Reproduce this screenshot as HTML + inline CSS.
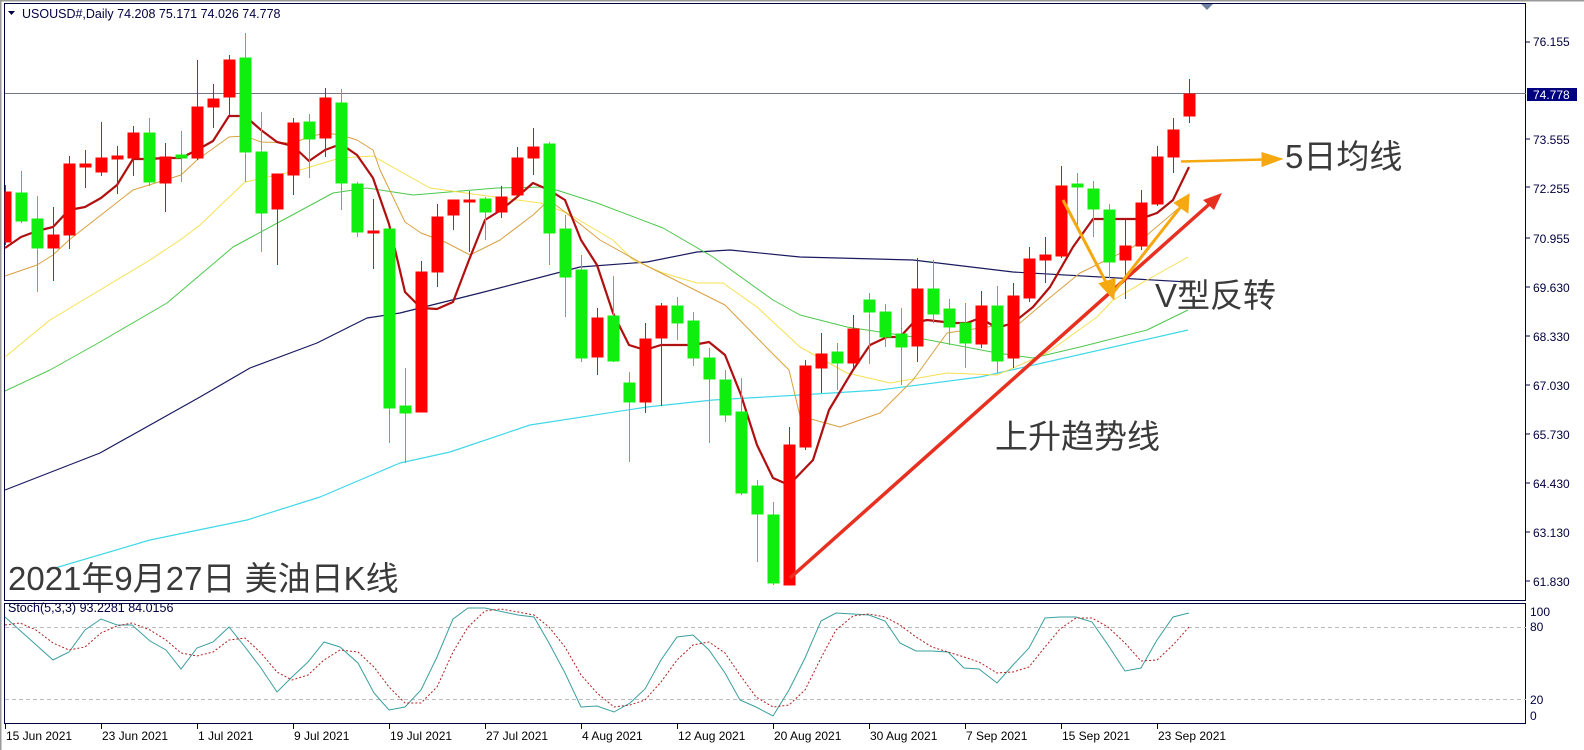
<!DOCTYPE html>
<html><head><meta charset="utf-8"><style>
html,body{margin:0;padding:0;background:#fff;}
svg{display:block;}
.ax{font-family:"Liberation Sans",sans-serif;font-size:12px;fill:#000040;}
.dt{font-family:"Liberation Sans",sans-serif;font-size:12px;fill:#000;}
.an{font-family:"Liberation Sans","Noto Sans CJK SC",sans-serif;fill:#3a3a3a;}
</style></head><body>
<svg width="1584" height="750" viewBox="0 0 1584 750" xmlns="http://www.w3.org/2000/svg">
<rect x="0" y="0" width="1584" height="750" fill="#fff"/>
<line x1="0" y1="0.5" x2="1584" y2="0.5" stroke="#999" stroke-width="2"/>
<line x1="0.5" y1="0" x2="0.5" y2="750" stroke="#999" stroke-width="2"/>
<rect x="4.5" y="3.5" width="1521" height="597" fill="none" stroke="#000040" stroke-width="1"/>
<rect x="4.5" y="603.5" width="1521" height="120" fill="none" stroke="#000040" stroke-width="1"/>
<polygon points="1201,4 1213,4 1207,10" fill="#7080a0"/>
<g stroke="#000040"><line x1="1526" y1="42" x2="1530" y2="42"/><line x1="1526" y1="139" x2="1530" y2="139"/><line x1="1526" y1="187" x2="1530" y2="187"/><line x1="1526" y1="238" x2="1530" y2="238"/><line x1="1526" y1="287" x2="1530" y2="287"/><line x1="1526" y1="336" x2="1530" y2="336"/><line x1="1526" y1="385" x2="1530" y2="385"/><line x1="1526" y1="434" x2="1530" y2="434"/><line x1="1526" y1="483" x2="1530" y2="483"/><line x1="1526" y1="532" x2="1530" y2="532"/><line x1="1526" y1="581" x2="1530" y2="581"/></g>
<g class="ax">
<text x="1533" y="46">76.155</text>
<text x="1533" y="144">73.555</text>
<text x="1533" y="193">72.255</text>
<text x="1533" y="243">70.955</text>
<text x="1533" y="292">69.630</text>
<text x="1533" y="341">68.330</text>
<text x="1533" y="390">67.030</text>
<text x="1533" y="439">65.730</text>
<text x="1533" y="488">64.430</text>
<text x="1533" y="537">63.130</text>
<text x="1533" y="586">61.830</text>
<text x="1530" y="616">100</text>
<text x="1530" y="631">80</text>
<text x="1530" y="704">20</text>
<text x="1530" y="720">0</text>
</g>
<rect x="1527" y="88" width="50" height="13" fill="#000080"/>
<text x="1533" y="99" class="ax" style="fill:#fff">74.778</text>
<line x1="5" y1="93.5" x2="1526" y2="93.5" stroke="#707888" stroke-width="1"/>
<polygon points="8,11 15,11 11.5,15" fill="#000040"/>
<text x="22" y="18" style="font-family:'Liberation Sans',sans-serif;font-size:12.5px;fill:#000040">USOUSD#,Daily  74.208 75.171 74.026 74.778</text>

<g fill="none" stroke-linejoin="round">
<polyline stroke="#40d8e8" stroke-width="1.2" points="55,568 150,540 247,520 320,497 400,463 450,452 530,425 647,407 713,400 800,395 880,390 980,377 1047,362 1188,330"/>
<polyline stroke="#1a1a60" stroke-width="1.2" points="5,490 100,453 200,397 250,368 317,343 367,318 400,313 480,293 580,267 647,262 697,252 730,250 800,257 913,260 1013,272 1188,282"/>
<polyline stroke="#4cc84c" stroke-width="1" points="5,391 50,370 100,342 167,303 233,247 283,220 333,193 367,188 413,195 497,188 547,187 597,203 663,228 713,257 773,300 800,315 847,327 913,337 997,353 1033,358 1080,347 1147,330 1188,310"/>
<polyline stroke="#f5e050" stroke-width="1" points="5,357 50,320 100,290 150,260 183,238 200,225 245,182 300,170 340,158 373,156 380,160 430,188 480,195 540,203 567,213 613,240 633,260 663,273 697,283 723,283 757,307 800,347 847,373 890,383 947,373 997,375 1047,353 1097,317 1113,300 1147,280 1188,257"/>
<polyline stroke="#d8a040" stroke-width="1" points="5,276 37,265 53,255 69,240 101,215 133,190 165,180 181,175 197,160 229,137 245,136 261,142 293,143 309,137 325,133 341,135 357,140 373,150 380,170 405,222 421,233 445,242 470,255 500,240 533,215 549,200 565,212 600,240 645,265 685,285 725,305 769,350 789,370 800,416 840,427 880,413 913,380 947,333 987,327 1020,323 1047,300 1080,273 1133,247 1180,207 1189,195"/>
<polyline stroke="#b01010" stroke-width="2.2" points="5,248 21,237 37,231 53,227 69,210 85,207 101,198 117,185 133,159 149,159 165,158 181,158 197,150 213,141 229,116 245,116 261,130 277,142 293,146 309,161 325,150 341,144 357,155 373,178 389,224 405,292 421,308 437,309 453,302 469,260 485,220 501,210 517,197 533,183 549,190 565,200 581,240 597,265 613,313 629,345 645,350 661,345 677,345 693,345 709,342 725,355 741,395 757,445 773,478 789,485 813,460 829,410 853,370 870,345 887,337 900,337 913,323 927,320 953,323 967,323 980,318 997,328 1013,323 1033,307 1050,287 1073,247 1093,219 1140,219 1157,213 1173,200 1189,167"/>
</g>

<g stroke-width="1">
<g stroke="#ff0000" fill="#ff0000">
<line x1="5.5" y1="185" x2="5.5" y2="245"/><rect x="5" y="192" width="6" height="50"/>
<line x1="53.5" y1="207" x2="53.5" y2="281"/><rect x="48" y="235" width="11" height="13"/>
<line x1="69.5" y1="156" x2="69.5" y2="249"/><rect x="64" y="164" width="11" height="71"/>
<line x1="85.5" y1="150" x2="85.5" y2="188"/><rect x="80" y="164" width="11" height="3"/>
<line x1="101.5" y1="122" x2="101.5" y2="176"/><rect x="96" y="158" width="11" height="14"/>
<line x1="117.5" y1="146" x2="117.5" y2="194"/><rect x="112" y="156" width="11" height="3"/>
<line x1="133.5" y1="126" x2="133.5" y2="176"/><rect x="128" y="133" width="11" height="25"/>
<line x1="165.5" y1="143" x2="165.5" y2="212"/><rect x="160" y="157" width="11" height="26"/>
<line x1="197.5" y1="60" x2="197.5" y2="160"/><rect x="192" y="107" width="11" height="51"/>
<line x1="213.5" y1="84" x2="213.5" y2="128"/><rect x="208" y="99" width="11" height="8"/>
<line x1="229.5" y1="55" x2="229.5" y2="115"/><rect x="224" y="60" width="11" height="37"/>
<line x1="277.5" y1="174" x2="277.5" y2="265"/><rect x="272" y="174" width="11" height="35"/>
<line x1="293.5" y1="118" x2="293.5" y2="195"/><rect x="288" y="123" width="11" height="52"/>
<line x1="325.5" y1="88" x2="325.5" y2="157"/><rect x="320" y="98" width="11" height="40"/>
<line x1="373.5" y1="199" x2="373.5" y2="269"/><rect x="368" y="231" width="11" height="2"/>
<line x1="421.5" y1="261" x2="421.5" y2="412"/><rect x="416" y="272" width="11" height="140"/>
<line x1="437.5" y1="204" x2="437.5" y2="287"/><rect x="432" y="217" width="11" height="55"/>
<line x1="453.5" y1="200" x2="453.5" y2="230"/><rect x="448" y="200" width="11" height="15"/>
<line x1="469.5" y1="191" x2="469.5" y2="252"/><rect x="464" y="200" width="11" height="2"/>
<line x1="501.5" y1="186" x2="501.5" y2="218"/><rect x="496" y="197" width="11" height="15"/>
<line x1="517.5" y1="147" x2="517.5" y2="198"/><rect x="512" y="158" width="11" height="37"/>
<line x1="533.5" y1="128" x2="533.5" y2="175"/><rect x="528" y="147" width="11" height="11"/>
<line x1="597.5" y1="308" x2="597.5" y2="375"/><rect x="592" y="318" width="11" height="39"/>
<line x1="645.5" y1="323" x2="645.5" y2="413"/><rect x="640" y="339" width="11" height="63"/>
<line x1="661.5" y1="303" x2="661.5" y2="406"/><rect x="656" y="306" width="11" height="32"/>
<line x1="789.5" y1="427" x2="789.5" y2="585"/><rect x="784" y="445" width="11" height="140"/>
<line x1="805.5" y1="360" x2="805.5" y2="450"/><rect x="800" y="366" width="11" height="81"/>
<line x1="821.5" y1="333" x2="821.5" y2="393"/><rect x="816" y="354" width="11" height="14"/>
<line x1="853.5" y1="315" x2="853.5" y2="368"/><rect x="848" y="329" width="11" height="34"/>
<line x1="917.5" y1="258" x2="917.5" y2="362"/><rect x="912" y="289" width="11" height="57"/>
<line x1="981.5" y1="291" x2="981.5" y2="348"/><rect x="976" y="306" width="11" height="38"/>
<line x1="1013.5" y1="283" x2="1013.5" y2="368"/><rect x="1008" y="296" width="11" height="62"/>
<line x1="1029.5" y1="247" x2="1029.5" y2="302"/><rect x="1024" y="259" width="11" height="39"/>
<line x1="1045.5" y1="237" x2="1045.5" y2="283"/><rect x="1040" y="255" width="11" height="5"/>
<line x1="1061.5" y1="166" x2="1061.5" y2="258"/><rect x="1056" y="186" width="11" height="70"/>
<line x1="1125.5" y1="220" x2="1125.5" y2="299"/><rect x="1120" y="246" width="11" height="14"/>
<line x1="1141.5" y1="190" x2="1141.5" y2="250"/><rect x="1136" y="203" width="11" height="43"/>
<line x1="1157.5" y1="146" x2="1157.5" y2="206"/><rect x="1152" y="157" width="11" height="47"/>
<line x1="1173.5" y1="118" x2="1173.5" y2="173"/><rect x="1168" y="130" width="11" height="27"/>
<line x1="1189.5" y1="79" x2="1189.5" y2="123"/><rect x="1184" y="94" width="11" height="22"/>
</g>
<g stroke="#10ee10" fill="#10ee10">
<line x1="21.5" y1="171" x2="21.5" y2="223"/><rect x="16" y="193" width="11" height="28"/>
<line x1="37.5" y1="196" x2="37.5" y2="292"/><rect x="32" y="219" width="11" height="29"/>
<line x1="149.5" y1="118" x2="149.5" y2="186"/><rect x="144" y="133" width="11" height="49"/>
<line x1="181.5" y1="131" x2="181.5" y2="182"/><rect x="176" y="155" width="11" height="3"/>
<line x1="245.5" y1="33" x2="245.5" y2="182"/><rect x="240" y="58" width="11" height="94"/>
<line x1="261.5" y1="112" x2="261.5" y2="252"/><rect x="256" y="152" width="11" height="61"/>
<line x1="309.5" y1="114" x2="309.5" y2="178"/><rect x="304" y="122" width="11" height="17"/>
<line x1="341.5" y1="89" x2="341.5" y2="210"/><rect x="336" y="103" width="11" height="80"/>
<line x1="357.5" y1="182" x2="357.5" y2="237"/><rect x="352" y="184" width="11" height="48"/>
<line x1="389.5" y1="229" x2="389.5" y2="443"/><rect x="384" y="229" width="11" height="179"/>
<line x1="405.5" y1="368" x2="405.5" y2="463"/><rect x="400" y="406" width="11" height="7"/>
<line x1="485.5" y1="197" x2="485.5" y2="240"/><rect x="480" y="199" width="11" height="13"/>
<line x1="549.5" y1="142" x2="549.5" y2="265"/><rect x="544" y="144" width="11" height="89"/>
<line x1="565.5" y1="215" x2="565.5" y2="317"/><rect x="560" y="229" width="11" height="48"/>
<line x1="581.5" y1="255" x2="581.5" y2="362"/><rect x="576" y="270" width="11" height="88"/>
<line x1="613.5" y1="276" x2="613.5" y2="362"/><rect x="608" y="316" width="11" height="45"/>
<line x1="629.5" y1="372" x2="629.5" y2="462"/><rect x="624" y="383" width="11" height="19"/>
<line x1="677.5" y1="297" x2="677.5" y2="340"/><rect x="672" y="306" width="11" height="17"/>
<line x1="693.5" y1="312" x2="693.5" y2="366"/><rect x="688" y="321" width="11" height="37"/>
<line x1="709.5" y1="348" x2="709.5" y2="443"/><rect x="704" y="358" width="11" height="21"/>
<line x1="725.5" y1="370" x2="725.5" y2="422"/><rect x="720" y="380" width="11" height="35"/>
<line x1="741.5" y1="378" x2="741.5" y2="495"/><rect x="736" y="412" width="11" height="81"/>
<line x1="757.5" y1="480" x2="757.5" y2="562"/><rect x="752" y="486" width="11" height="28"/>
<line x1="773.5" y1="502" x2="773.5" y2="585"/><rect x="768" y="515" width="11" height="68"/>
<line x1="837.5" y1="343" x2="837.5" y2="390"/><rect x="832" y="352" width="11" height="11"/>
<line x1="869.5" y1="293" x2="869.5" y2="364"/><rect x="864" y="300" width="11" height="12"/>
<line x1="885.5" y1="304" x2="885.5" y2="347"/><rect x="880" y="312" width="11" height="25"/>
<line x1="901.5" y1="308" x2="901.5" y2="385"/><rect x="896" y="334" width="11" height="13"/>
<line x1="933.5" y1="260" x2="933.5" y2="323"/><rect x="928" y="289" width="11" height="25"/>
<line x1="949.5" y1="299" x2="949.5" y2="345"/><rect x="944" y="309" width="11" height="18"/>
<line x1="965.5" y1="303" x2="965.5" y2="368"/><rect x="960" y="323" width="11" height="20"/>
<line x1="997.5" y1="286" x2="997.5" y2="373"/><rect x="992" y="306" width="11" height="55"/>
<line x1="1077.5" y1="173" x2="1077.5" y2="230"/><rect x="1072" y="184" width="11" height="3"/>
<line x1="1093.5" y1="181" x2="1093.5" y2="237"/><rect x="1088" y="189" width="11" height="20"/>
<line x1="1109.5" y1="204" x2="1109.5" y2="278"/><rect x="1104" y="210" width="11" height="52"/>
</g>
</g>

<line x1="790" y1="578" x2="1214" y2="200" stroke="#e83020" stroke-width="3.5"/>
<polygon points="1222,193 1203,200 1214,210" fill="#e83020"/>
<g stroke="#f5a810" stroke-width="3" fill="#f5a810">
<line x1="1063" y1="200" x2="1108" y2="286"/>
<polygon points="1113,297 1101,284 1114,280"/>
<line x1="1113" y1="293" x2="1183" y2="204"/>
<polygon points="1188,196 1176,203 1187,211"/>
<line x1="1181" y1="161.5" x2="1265" y2="159.5" stroke-width="2.5"/>
<polygon points="1279,159 1263,154 1263,165"/>
</g>
<text class="an" x="1285" y="168" font-size="33">5日均线</text>
<text class="an" x="1155" y="307" font-size="33">V型反转</text>
<text class="an" x="995" y="448" font-size="33">上升趋势线</text>
<text class="an" x="8" y="590" font-size="33">2021年9月27日 美油日K线</text>

<line x1="5" y1="627.5" x2="1526" y2="627.5" stroke="#bbb" stroke-dasharray="4,3"/>
<line x1="5" y1="699.5" x2="1526" y2="699.5" stroke="#bbb" stroke-dasharray="4,3"/>
<text x="8" y="612" style="font-family:'Liberation Sans',sans-serif;font-size:12.5px;fill:#000040">Stoch(5,3,3) 93.2281 84.0156</text>
<polyline fill="none" stroke="#3a9f9f" stroke-width="1" points="5,617 53,660 69,652 85,630 101,619 117,625 132,625 150,641 166,650 181,669 197,648 213,642 229,627 245,647 261,668 277,692 292,677 308,662 324,642 340,647 358,663 374,693 389,710 405,707 421,690 437,657 453,619 468,608 485,608 518,615 534,617 549,643 565,673 581,707 597,706 614,712 630,703 645,689 661,660 677,637 693,635 709,650 725,673 740,700 756,707 773,716 789,690 805,658 821,621 836,613 853,614 869,615 885,621 900,643 916,651 932,651 948,652 964,668 979,669 997,683 1013,665 1029,648 1045,618 1060,617 1076,617 1092,622 1108,645 1125,671 1141,668 1157,640 1173,617 1189,613"/>
<polyline fill="none" stroke="#b02020" stroke-width="1" stroke-dasharray="2,2" points="5,625 20,623 36,630 53,643 69,650 85,647 101,633 117,626 132,623 150,630 166,640 181,653 197,656 213,652 229,640 245,638 261,653 277,672 292,680 308,675 324,660 340,650 358,652 374,667 389,687 405,703 421,703 437,687 453,652 468,627 485,611 501,609 518,612 534,615 549,627 565,647 581,675 597,693 614,707 630,705 645,700 661,682 677,660 693,645 709,642 725,653 740,675 756,697 773,707 789,705 805,690 821,658 836,630 853,616 869,614 885,617 900,625 916,637 932,647 948,652 964,657 979,662 997,673 1013,672 1029,667 1045,647 1060,629 1076,618 1092,618 1108,627 1125,643 1141,661 1157,660 1173,645 1189,627"/>

<g stroke="#000040"><line x1="5.5" y1="724" x2="5.5" y2="729"/><line x1="101.5" y1="724" x2="101.5" y2="729"/><line x1="197.5" y1="724" x2="197.5" y2="729"/><line x1="293.5" y1="724" x2="293.5" y2="729"/><line x1="389.5" y1="724" x2="389.5" y2="729"/><line x1="485.5" y1="724" x2="485.5" y2="729"/><line x1="581.5" y1="724" x2="581.5" y2="729"/><line x1="677.5" y1="724" x2="677.5" y2="729"/><line x1="773.5" y1="724" x2="773.5" y2="729"/><line x1="869.5" y1="724" x2="869.5" y2="729"/><line x1="965.5" y1="724" x2="965.5" y2="729"/><line x1="1061.5" y1="724" x2="1061.5" y2="729"/><line x1="1157.5" y1="724" x2="1157.5" y2="729"/></g>
<g class="dt">
<text x="6" y="740">15 Jun 2021</text>
<text x="102" y="740">23 Jun 2021</text>
<text x="198" y="740">1 Jul 2021</text>
<text x="294" y="740">9 Jul 2021</text>
<text x="390" y="740">19 Jul 2021</text>
<text x="486" y="740">27 Jul 2021</text>
<text x="582" y="740">4 Aug 2021</text>
<text x="678" y="740">12 Aug 2021</text>
<text x="774" y="740">20 Aug 2021</text>
<text x="870" y="740">30 Aug 2021</text>
<text x="966" y="740">7 Sep 2021</text>
<text x="1062" y="740">15 Sep 2021</text>
<text x="1158" y="740">23 Sep 2021</text>
</g>
</svg>
</body></html>
